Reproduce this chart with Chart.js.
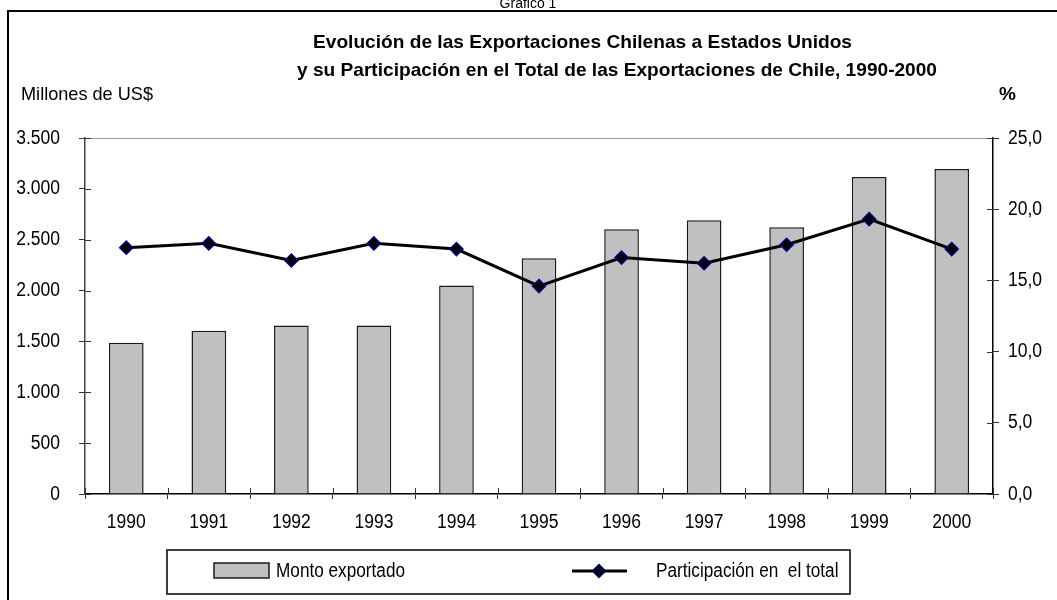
<!DOCTYPE html>
<html><head><meta charset="utf-8">
<script src="https://cdn.jsdelivr.net/npm/chart.js@4"></script>
<style>html,body{margin:0;padding:0;background:#fff;overflow:hidden}#wrap{position:relative;width:1057px;height:600px}</style>
</head><body><div id="wrap"><canvas id="c" width="1057" height="600"></canvas></div>
<script>
const years = ['1990','1991','1992','1993','1994','1995','1996','1997','1998','1999','2000'];
const montoExportado = [1487, 1604, 1657, 1657, 2051, 2318, 2604, 2692, 2622, 3116, 3195];
const participacion = [17.3, 17.6, 16.4, 17.6, 17.2, 14.6, 16.6, 16.2, 17.5, 19.3, 17.2];
const seriesLabels = ['Monto exportado', 'Participación en  el total'];
const titleLines = ['Evolución de las Exportaciones Chilenas a Estados Unidos',
                    'y su Participación en el Total de las Exportaciones de Chile, 1990-2000'];
const leftUnit = 'Millones de US$';
const rightUnit = '%';
const topNote = 'Gráfico 1';

const FONT = "'Liberation Sans', Arial, sans-serif";
const NARROWK = 0.875; // horizontal compression imitating a narrow face
const fmtLeft = v => String(v).replace(/\B(?=(\d{3})+(?!\d))/g, '.');
const fmtRight = v => Number(v).toFixed(1).replace('.', ',');

function fitText(ctx, text, x, y, w) {
  const m = ctx.measureText(text).width;
  ctx.save(); ctx.translate(x, y); ctx.scale(w / m, 1); ctx.fillText(text, 0, 0); ctx.restore();
}
function scaledText(ctx, text, x, y, k, align) {
  const m = ctx.measureText(text).width * k;
  let x0 = x;
  if (align === 'right') x0 = x - m; else if (align === 'center') x0 = x - m / 2;
  ctx.save(); ctx.translate(x0, y); ctx.scale(k, 1); ctx.textAlign = 'left'; ctx.fillText(text, 0, 0); ctx.restore();
}

function diamond(ctx, x, y, r) {
  ctx.beginPath();
  ctx.moveTo(x, y - r); ctx.lineTo(x + r, y); ctx.lineTo(x, y + r); ctx.lineTo(x - r, y); ctx.closePath();
  ctx.fillStyle = '#000'; ctx.fill();
  ctx.lineWidth = 1.5; ctx.strokeStyle = '#000080'; ctx.stroke();
}

const decor = {
  id: 'decor',
  beforeDraw(chart) {
    const ctx = chart.ctx;
    ctx.save(); ctx.fillStyle = '#fff'; ctx.fillRect(0, 0, chart.width, chart.height); ctx.restore();
  },
  afterDraw(chart) {
    const ctx = chart.ctx;
    ctx.save();
    ctx.strokeStyle = '#000'; ctx.lineWidth = 2;
    ctx.strokeRect(8, 11, 1200, 800);
    ctx.fillStyle = '#000';
    ctx.font = '14px ' + FONT; ctx.textAlign = 'center'; ctx.textBaseline = 'alphabetic';
    ctx.fillText(topNote, 528, 8);
    ctx.textAlign = 'left';
    ctx.font = 'bold 19px ' + FONT;
    fitText(ctx, titleLines[0], 313, 48, 539);
    fitText(ctx, titleLines[1], 297, 76, 640);
    ctx.font = '19px ' + FONT;
    fitText(ctx, leftUnit, 21, 100, 132);
    ctx.font = 'bold 19px ' + FONT;
    ctx.fillText(rightUnit, 999, 100);

    const xs = chart.scales.x, yl = chart.scales.y, yr = chart.scales.y1;
    // inner halves of the crossing tick marks
    ctx.lineWidth = 1; ctx.strokeStyle = '#333';
    const n = xs.ticks.length, step = (xs.right - xs.left) / n;
    for (let i = 0; i <= n; i++) {
      const x = Math.round(xs.left + i * step) + 0.5;
      ctx.beginPath(); ctx.moveTo(x, xs.top - 6); ctx.lineTo(x, xs.top); ctx.stroke();
    }
    yl.ticks.forEach(t => {
      const y = Math.round(yl.getPixelForValue(t.value)) + 0.5;
      ctx.beginPath(); ctx.moveTo(yl.right, y); ctx.lineTo(yl.right + 6, y); ctx.stroke();
    });
    yr.ticks.forEach(t => {
      const y = Math.round(yr.getPixelForValue(t.value)) + 0.5;
      ctx.beginPath(); ctx.moveTo(yr.left - 6, y); ctx.lineTo(yr.left, y); ctx.stroke();
    });

    // tick labels (narrowed)
    ctx.fillStyle = '#000'; ctx.font = '20px ' + FONT; ctx.textBaseline = 'middle';
    xs.ticks.forEach((t, i) => {
      scaledText(ctx, chart.data.labels[i], xs.getPixelForTick(i), 522, NARROWK, 'center');
    });
    yl.ticks.forEach(t => {
      scaledText(ctx, fmtLeft(t.value), 60, yl.getPixelForValue(t.value), NARROWK, 'right');
    });
    yr.ticks.forEach(t => {
      scaledText(ctx, fmtRight(t.value), 1008, yr.getPixelForValue(t.value), NARROWK, 'left');
    });

    // legend
    ctx.strokeStyle = '#000'; ctx.lineWidth = 1.5;
    ctx.strokeRect(167, 550, 683, 44);
    const ds0 = chart.data.datasets[0], ds1 = chart.data.datasets[1];
    ctx.fillStyle = ds0.backgroundColor;
    ctx.fillRect(214, 563, 55, 15);
    ctx.strokeStyle = ds0.borderColor; ctx.lineWidth = 1.5;
    ctx.strokeRect(214, 563, 55, 15);
    ctx.fillStyle = '#000'; ctx.font = '20px ' + FONT; ctx.textBaseline = 'middle';
    const k = 129 / ctx.measureText(ds0.label).width;
    scaledText(ctx, ds0.label, 276, 571, k, 'left');
    ctx.strokeStyle = ds1.borderColor; ctx.lineWidth = 3;
    ctx.beginPath(); ctx.moveTo(572, 571); ctx.lineTo(627, 571); ctx.stroke();
    diamond(ctx, 599, 571, 6.5);
    ctx.fillStyle = '#000';
    scaledText(ctx, ds1.label, 656, 571, k, 'left');
    ctx.restore();
  }
};

new Chart(document.getElementById('c'), {
  data: {
    labels: years,
    datasets: [
      {
        type: 'bar', label: seriesLabels[0], data: montoExportado, yAxisID: 'y',
        backgroundColor: '#c0c0c0', borderColor: '#1a1a1a', borderWidth: 1.5,
        barPercentage: 0.42, categoryPercentage: 1.0, order: 1
      },
      {
        type: 'line', label: seriesLabels[1], data: participacion, yAxisID: 'y1',
        borderColor: '#000', borderWidth: 3, tension: 0,
        pointStyle: 'rectRot', pointRadius: 6.5, pointBackgroundColor: '#000',
        pointBorderColor: '#000080', pointBorderWidth: 1.5, order: 0
      }
    ]
  },
  options: {
    responsive: false, animation: false, devicePixelRatio: 1,
    layout: { padding: { top: 138, left: 0, right: 0, bottom: 0 } },
    plugins: { legend: { display: false }, tooltip: { enabled: false }, title: { display: false } },
    scales: {
      x: {
        offset: true,
        grid: { display: true, drawOnChartArea: false, drawTicks: true, tickLength: 5, color: '#333', offset: true },
        border: { display: true, color: '#000', width: 1.5 },
        ticks: { color: 'rgba(0,0,0,0)', font: { family: FONT, size: 18 }, padding: 12, maxRotation: 0 },
        afterFit(s) { s.height = 106; }
      },
      y: {
        position: 'left', min: 0, max: 3500,
        grid: { drawOnChartArea: true, drawTicks: true, tickLength: 6, tickColor: '#333',
                color: c => (c.tick && c.tick.value === 3500) ? '#9a9a9a' : 'rgba(0,0,0,0)' },
        border: { display: true, color: '#444', width: 1.5 },
        ticks: { stepSize: 500, color: 'rgba(0,0,0,0)', font: { family: FONT, size: 18 }, padding: 16, callback: v => fmtLeft(v) },
        afterFit(s) { s.width = 85; }
      },
      y1: {
        position: 'right', min: 0, max: 25,
        grid: { drawOnChartArea: false, drawTicks: true, tickLength: 6, color: '#333' },
        border: { display: true, color: '#000', width: 1.5 },
        ticks: { stepSize: 5, color: 'rgba(0,0,0,0)', font: { family: FONT, size: 18 }, padding: 6, callback: v => fmtRight(v) },
        afterFit(s) { s.width = 64; }
      }
    }
  },
  plugins: [decor]
});
</script>
</body></html>
